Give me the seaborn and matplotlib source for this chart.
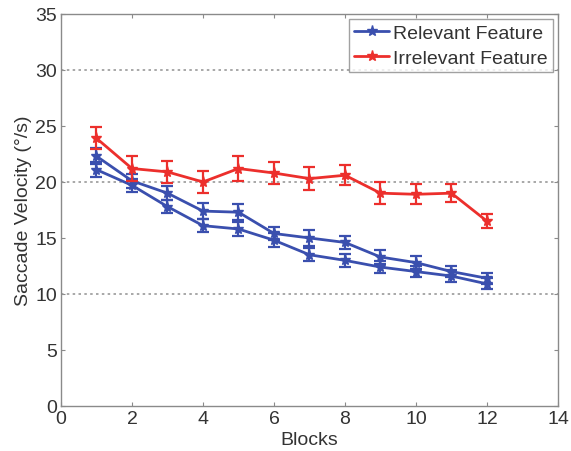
import matplotlib
matplotlib.use("Agg")
import matplotlib.pyplot as plt
import seaborn as sns
import numpy as np
import pandas as pd
from matplotlib.ticker import FixedLocator

blocks = [1, 2, 3, 4, 5, 6, 7, 8, 9, 10, 11, 12]
relevant_a = [22.3, 20.1, 19.0, 17.4, 17.3, 15.4, 15.0, 14.6, 13.3, 12.8, 12.0, 11.4]
relevant_a_err = [0.7, 0.6, 0.6, 0.7, 0.7, 0.6, 0.7, 0.6, 0.6, 0.6, 0.5, 0.5]
relevant_b = [21.1, 19.7, 17.8, 16.1, 15.8, 14.8, 13.5, 13.0, 12.4, 12.0, 11.6, 10.9]
relevant_b_err = [0.7, 0.6, 0.6, 0.6, 0.6, 0.6, 0.6, 0.6, 0.5, 0.5, 0.5, 0.5]
irrelevant = [23.9, 21.2, 20.9, 20.0, 21.2, 20.8, 20.3, 20.6, 19.0, 18.9, 19.0, 16.5]
irrelevant_err = [1.0, 1.1, 1.0, 1.0, 1.1, 1.0, 1.0, 0.9, 1.0, 0.9, 0.8, 0.6]

xticks = [0, 2, 4, 6, 8, 10, 12, 14]
yticks = [0, 5, 10, 15, 20, 25, 30, 35]
ygrid = [10, 20, 30]

BLUE = "#3a4fae"
RED = "#ec2f2c"
GREY = "#8a8a8a"
TXT = "#333333"
FS = 14

sns.set_style("white")
plt.rcParams['font.family'] = ['Liberation Sans', 'DejaVu Sans']

fig = plt.figure(figsize=(5.71, 4.52), dpi=100)
ax = fig.add_axes([0.1068, 0.0996, 0.8704, 0.8673])

series = [
    ("Relevant Feature", relevant_a, relevant_a_err, BLUE, True),
    (None, relevant_b, relevant_b_err, BLUE, False),
    ("Irrelevant Feature", irrelevant, irrelevant_err, RED, True),
]

for label, vals, errs, color, show in series:
    df = pd.DataFrame({"Blocks": blocks, "v": vals})
    sns.lineplot(data=df, x="Blocks", y="v", ax=ax, color=color, lw=2.0,
                 marker="*", markersize=8, markeredgecolor=color,
                 markeredgewidth=1.0,
                 label=label if show else None, legend=False)
    ax.errorbar(blocks, vals, yerr=errs, fmt="none", ecolor=color,
                elinewidth=1.6, capsize=4.5, capthick=1.6)

ax.set_xlim(0, 14)
ax.set_ylim(0, 35)
ax.set_xticks(xticks)
ax.set_yticks(yticks)
ax.yaxis.remove_overlapping_locs = False
ax.yaxis.set_minor_locator(FixedLocator(ygrid))
ax.grid(False)
ax.grid(which="minor", axis="y", linestyle=(0, (1.5, 2.0)), color="#9a9a9a", lw=1.2)
ax.tick_params(which="minor", length=0)
ax.tick_params(which="major", direction="in", length=3, color=GREY,
               labelsize=FS, labelcolor=TXT, top=True, right=True,
               left=True, bottom=True, pad=3)
for s in ax.spines.values():
    s.set_color(GREY)
    s.set_linewidth(1.0)

ax.set_xlabel("Blocks", fontsize=FS, color=TXT, labelpad=3)
ax.set_ylabel("Saccade Velocity (°/s)", fontsize=FS, color=TXT, labelpad=2)

h, l = ax.get_legend_handles_labels()
leg = ax.legend(h, l, loc="upper right", fontsize=FS, frameon=True,
                fancybox=False, borderaxespad=0.28, handlelength=1.8,
                handletextpad=0.2, borderpad=0.25, labelspacing=0.4)
leg.get_frame().set_edgecolor(GREY)
leg.get_frame().set_linewidth(1.0)
for t in leg.get_texts():
    t.set_color(TXT)

fig.savefig("out.png", dpi=100)
